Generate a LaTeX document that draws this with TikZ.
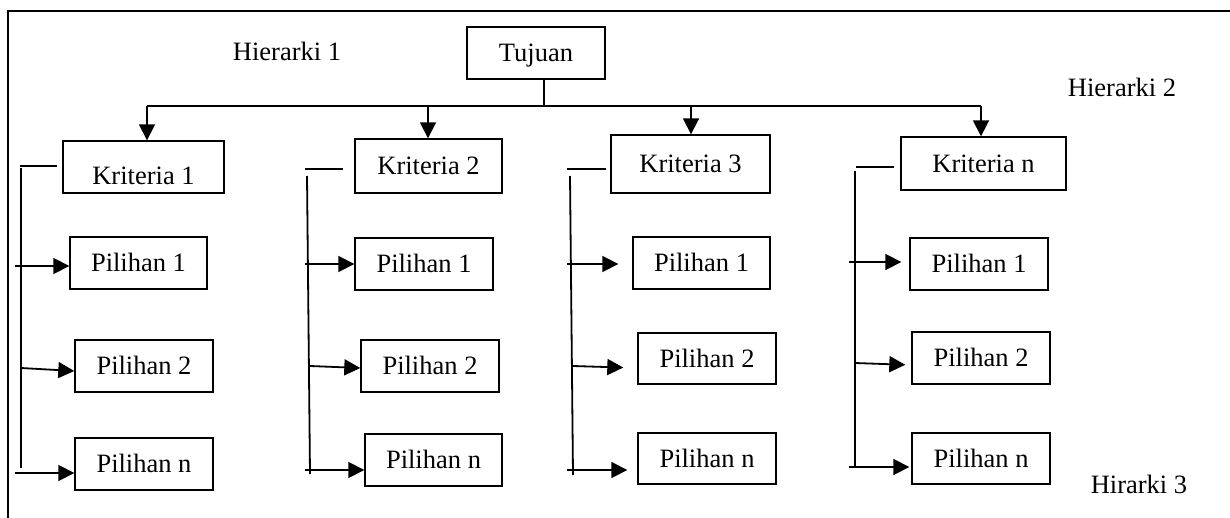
\documentclass[tikz,border=0pt]{standalone}
\usepackage{fontspec}
\setmainfont{Liberation Serif}
\usetikzlibrary{arrows.meta}
\begin{document}
\begin{tikzpicture}[x=1pt,y=-1pt,
  txt/.style={font=\fontsize{26.5}{30}\selectfont, inner sep=0pt, text height=20pt, text depth=2.8pt},
  box/.style={txt, draw, line width=1.4pt, minimum height=52pt, minimum width=138pt},
  conn/.style={line width=1.8pt},
  arr/.style={conn, -{Triangle[length=16pt,width=16pt]}},
  frame/.style={line width=1.7pt}
]
\useasboundingbox (0,0) rectangle (1230,518);
% frame
\coordinate (f1) at (1230,11);
\coordinate (f2) at (8,11);
\coordinate (f3) at (8,518);
\draw[frame] (f1) -- (f2) -- (f3);

% labels
\node[txt] (H1) at (287,52) {Hierarki 1};
\node[txt] (H2) at (1122,88) {Hierarki 2};
\node[txt] (H3) at (1139,485) {Hirarki 3};

% goal and criteria
\node[box] (T) at (536,53) {Tujuan};
\node[box, minimum width=161pt] (K1) at (143.5,167) {\raisebox{-9pt}{Kriteria 1}};
\node[box, minimum width=147pt, minimum height=54pt] (K2) at (428.5,166) {Kriteria 2};
\node[box, minimum width=159pt, minimum height=58pt] (K3) at (690.5,164) {Kriteria 3};
\node[box, minimum width=165pt, minimum height=53pt] (K4) at (983.5,163.5) {Kriteria n};

% alternatives
\node[box, minimum width=137pt] (P11) at (138.5,263) {Pilihan 1};
\node[box] (P12) at (144,366) {Pilihan 2};
\node[box] (P1n) at (144,464) {Pilihan n};
\node[box] (P21) at (424,264) {Pilihan 1};
\node[box] (P22) at (430,366) {Pilihan 2};
\node[box, minimum width=137pt] (P2n) at (433.5,460) {Pilihan n};
\node[box, minimum width=137pt] (P31) at (701.5,263) {Pilihan 1};
\node[box, minimum height=51pt] (P32) at (707,358.5) {Pilihan 2};
\node[box, minimum height=51pt] (P3n) at (707,458.5) {Pilihan n};
\node[box] (P41) at (979,264) {Pilihan 1};
\node[box] (P42) at (981,358) {Pilihan 2};
\node[box, minimum height=51pt] (P4n) at (981,458.5) {Pilihan n};

% goal to criteria
\coordinate (j) at (544,106);
\coordinate (hl) at (147,106);
\coordinate (hr) at (981,106);
\coordinate (a2) at (428,106);
\coordinate (a3) at (691,106);
\draw[conn] (T.south -| j) -- (j);
\draw[conn] (hl) -- (hr);
\draw[arr] (hl) -- (hl |- K1.north);
\draw[arr] (a2) -- (a2 |- K2.north);
\draw[arr] (a3) -- (a3 |- K3.north);
\draw[arr] (hr) -- (hr |- K4.north);

% column 1
\coordinate (s1) at (20,166);
\coordinate (v1t) at (21,168);
\coordinate (v1b) at (21,468);
\draw[conn, shorten >=5pt] (s1) -- (s1 -| K1.west);
\draw[conn] (v1t) -- (v1b);
\coordinate (b11) at (15,266);
\coordinate (b12) at (21,368);
\coordinate (b1n) at (15,473);
\draw[arr] (b11) -- (b11 -| P11.west);
\draw[arr] (b12) -- ([yshift=-5pt]P12.west);
\draw[arr] (b1n) -- (b1n -| P1n.west);

% column 2
\coordinate (s2) at (305,169);
\coordinate (v2t) at (307,176);
\coordinate (v2b) at (310,474);
\draw[conn, shorten >=11pt] (s2) -- (s2 -| K2.west);
\draw[conn] (v2t) -- (v2b);
\coordinate (b21) at (305,264);
\coordinate (b22) at (310,366);
\coordinate (b2n) at (305,470);
\draw[arr] (b21) -- (b21 -| P21.west);
\draw[arr] (b22) -- ([yshift=-2pt]P22.west);
\draw[arr] (b2n) -- (b2n -| P2n.west);

% column 3
\coordinate (s3) at (567,169);
\coordinate (v3t) at (570,176);
\coordinate (v3b) at (573,475);
\draw[conn, shorten >=4pt] (s3) -- (s3 -| K3.west);
\draw[conn] (v3t) -- (v3b);
\coordinate (b31) at (567,264);
\coordinate (b32) at (573,366);
\coordinate (b3n) at (567,470);
\draw[arr, shorten >=14pt] (b31) -- (b31 -| P31.west);
\draw[arr, shorten >=14pt] (b32) -- ([yshift=-9.5pt]P32.west);
\draw[arr, shorten >=10pt] (b3n) -- (b3n -| P3n.west);

% column 4
\coordinate (s4) at (856,167);
\coordinate (v4t) at (855,171);
\coordinate (v4b) at (855,467);
\draw[conn, shorten >=6pt] (s4) -- (s4 -| K4.west);
\draw[conn] (v4t) -- (v4b);
\coordinate (b41) at (849,262);
\coordinate (b42) at (855,363);
\coordinate (b4n) at (849,467);
\draw[arr, shorten >=8pt] (b41) -- (b41 -| P41.west);
\draw[arr, shorten >=6pt] (b42) -- ([yshift=-7pt]P42.west);
\draw[arr, shorten >=2pt] (b4n) -- (b4n -| P4n.west);
\end{tikzpicture}
\end{document}
